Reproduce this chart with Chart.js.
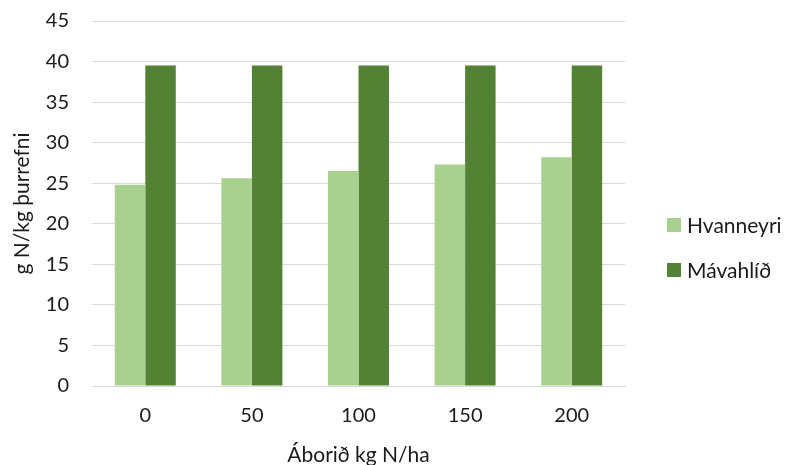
<!DOCTYPE html>
<html>
<head>
<meta charset="utf-8">
<script src="https://cdn.jsdelivr.net/npm/chart.js@4/dist/chart.umd.min.js"></script>
<style>
  html, body { margin: 0; padding: 0; background: #fff; }
  #wrap { width: 786px; height: 465px; position: relative; }
</style>
</head>
<body>
<div id="wrap"><canvas id="c" width="786" height="465"></canvas></div>
<script>
// Nitrogen content of dry matter by fertiliser rate at two sites
const categories = ['0', '50', '100', '150', '200'];
const hvanneyri = [24.8, 25.6, 26.5, 27.3, 28.2];
const mavahlid = [39.5, 39.5, 39.5, 39.5, 39.5];
const seriesNames = ['Hvanneyri', 'Mávahlíð'];
const yTicks = [0, 5, 10, 15, 20, 25, 30, 35, 40, 45];

const FONT = 'Lato, "Open Sans", sans-serif';
const TEXT = '#1a1a1a';
const colors = ['#a9d18e', '#548235'];

// Legend drawn to the right of the plot, stacked vertically
const sideLegend = {
  id: 'sideLegend',
  afterDraw(chart) {
    const ctx = chart.ctx;
    ctx.save();
    ctx.font = '21px ' + FONT;
    ctx.textBaseline = 'middle';
    ctx.textAlign = 'left';
    const x = 667, startY = 225, step = 45, box = 14;
    chart.data.datasets.forEach((ds, i) => {
      const cy = startY + i * step;
      ctx.fillStyle = ds.backgroundColor;
      ctx.fillRect(x, cy - box / 2, box, box);
      ctx.fillStyle = TEXT;
      ctx.fillText(ds.label, x + 20, cy + 1);
    });
    ctx.restore();
  }
};

new Chart(document.getElementById('c'), {
  type: 'bar',
  data: {
    labels: categories,
    datasets: [
      { label: seriesNames[0], data: hvanneyri, backgroundColor: colors[0] },
      { label: seriesNames[1], data: mavahlid, backgroundColor: colors[1] }
    ]
  },
  options: {
    responsive: false,
    animation: false,
    layout: { padding: { top: 21, right: 161, left: 0, bottom: 0 } },
    datasets: { bar: { categoryPercentage: 0.572, barPercentage: 1.0 } },
    plugins: { legend: { display: false }, tooltip: { enabled: false } },
    scales: {
      x: {
        grid: { display: false, drawTicks: false },
        border: { display: true, color: '#d9d9d9', width: 1 },
        ticks: { color: TEXT, font: { family: FONT, size: 20 }, padding: 18 },
        title: {
          display: true, text: 'Áborið kg N/ha', color: TEXT,
          font: { family: FONT, size: 21, lineHeight: 1.2 },
          padding: { top: 0, bottom: -3 }
        },
        afterFit(scale) { scale.height = 79; scale.paddingLeft = 0; scale.paddingRight = 0; }
      },
      y: {
        min: 0, max: 45,
        afterBuildTicks(scale) { scale.ticks = yTicks.map(v => ({ value: v })); },
        grid: { color: '#d9d9d9', drawTicks: false, lineWidth: 1 },
        border: { display: false },
        ticks: { color: TEXT, font: { family: FONT, size: 20 }, padding: 23 },
        title: {
          display: true, text: 'g N/kg þurrefni', color: TEXT,
          font: { family: FONT, size: 21, lineHeight: 1.2 },
          padding: { top: 10, bottom: 0 }
        },
        afterFit(scale) { scale.width = 92; scale.paddingTop = 0; scale.paddingBottom = 0; }
      }
    }
  },
  plugins: [sideLegend]
});
</script>
</body>
</html>
